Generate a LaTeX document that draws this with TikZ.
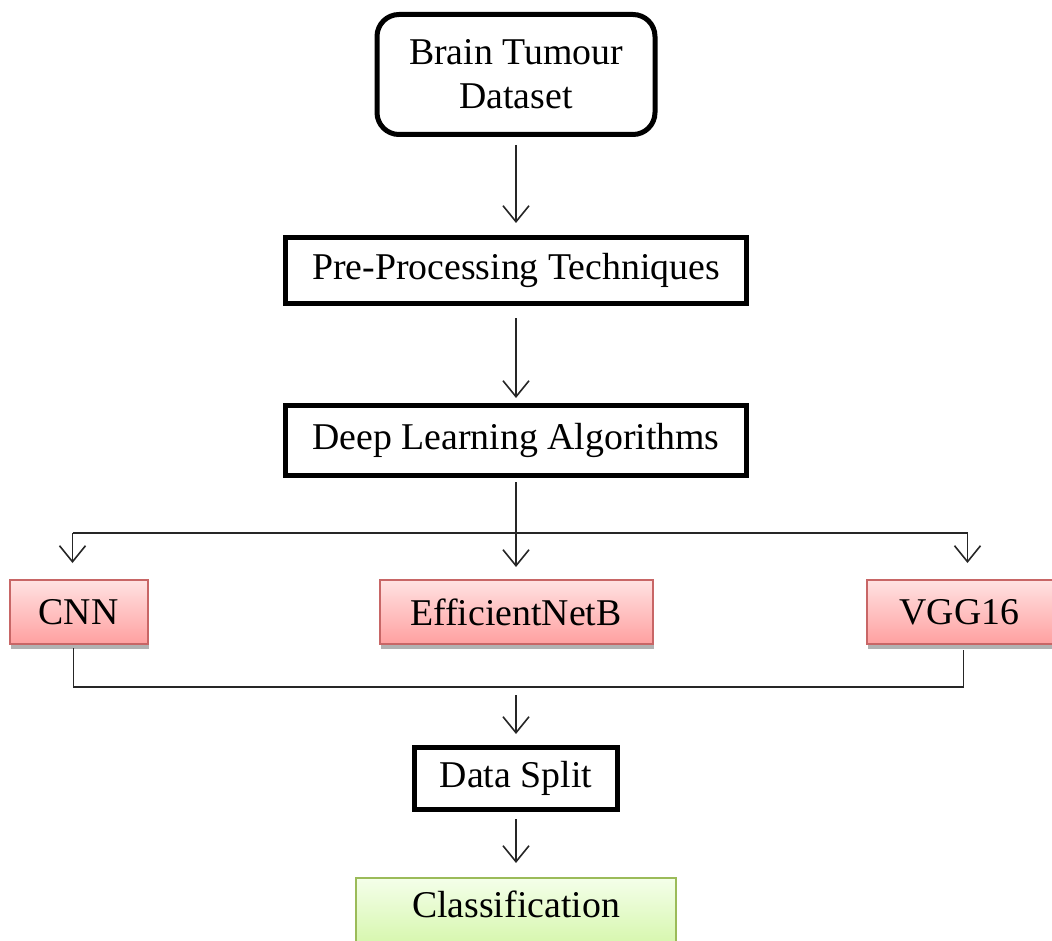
\documentclass[tikz,border=0pt]{standalone}
\usepackage{fontspec}
\setmainfont{Liberation Serif}
\usepackage{xcolor}
\usetikzlibrary{arrows.meta,positioning,shadows}

\definecolor{ModelEdge}{HTML}{C86666}
\definecolor{ModelTop}{HTML}{FFE2E2}
\definecolor{ModelBot}{HTML}{FFA0A0}
\definecolor{ResultEdge}{HTML}{9BBB59}
\definecolor{ResultTop}{HTML}{F4FFEA}
\definecolor{ResultBot}{HTML}{C8F290}
\newcommand{\boxfont}{\fontsize{37.8}{44}\selectfont}

\begin{document}
\begin{tikzpicture}[x=1pt, y=1pt, node distance=100pt, >={Straight Barb[length=16pt,width=26pt]},
    source/.style={rectangle, draw=black, line width=5pt, rounded corners=22pt, fill=white, minimum width=278pt, minimum height=120pt, align=center, font=\boxfont},
    stage/.style={rectangle, draw=black, line width=5pt, fill=white, minimum width=461pt, minimum height=66pt, font=\boxfont},
    model/.style={rectangle, draw=ModelEdge, line width=2pt, top color=ModelTop, bottom color=ModelBot, minimum height=64pt, font=\boxfont,
        drop shadow={shadow xshift=1pt, shadow yshift=-5pt, opacity=.3, fill=black}},
    result/.style={rectangle, draw=ResultEdge, line width=2pt, top color=ResultTop, bottom color=ResultBot, minimum width=320pt, font=\boxfont,
        text height=25pt, text depth=45pt, inner ysep=14pt},
    link/.style={draw=black!85, line width=1.6pt},
    flow/.style={link, ->}]

    \useasboundingbox (0,0) rectangle (1052,-941);

    \node [source] (dataset) at (516,-74.5) {Brain Tumour\\Dataset};
    \node [stage, below=98pt of dataset] (prep) {Pre-Processing Techniques};
    \node [stage, below=97pt of prep, minimum height=70pt] (dl) {Deep Learning Algorithms};

    % the three networks
    \node [model, below=101pt of dl, minimum width=273pt] (effnet) {EfficientNetB};
    \node [model, left=230pt of effnet, minimum width=138pt] (cnn) {CNN};
    \node [model, right=212pt of effnet, minimum width=186pt] (vgg) {VGG16};

    \node [stage, below=100pt of effnet, minimum width=203pt, minimum height=62pt] (split) {Data Split};
    \node [result, below=65pt of split] (cls) {Classification};

    \coordinate [below=55pt of dl.south] (fork);
    \coordinate [below=42pt of effnet.south] (merge);

    \draw [flow, shorten <=8pt, shorten >=12pt] (dataset) -- (prep);
    \draw [flow, shorten <=12pt, shorten >=5pt] (prep) -- (dl);
    \draw [flow, shorten <=4pt, shorten >=12pt] (dl) -- (effnet);

    % branch out to the side networks
    \draw [link] ([xshift=-6pt]cnn.north |- fork) -- ([xshift=8pt]vgg.north |- fork);
    \draw [flow, shorten >=16pt] ([xshift=-6pt]cnn.north |- fork) -- ([xshift=-6pt]cnn.north);
    \draw [flow, shorten >=16pt] ([xshift=8pt]vgg.north |- fork) -- ([xshift=8pt]vgg.north);

    % join them again
    \draw [link, shorten <=3pt, shorten >=5pt] ([xshift=-5pt]cnn.south) |- (merge) -| ([xshift=4pt]vgg.south);
    \draw [flow, shorten <=8pt, shorten >=11pt] (merge) -- (split);
    \draw [flow, shorten <=7pt, shorten >=14pt] (split) -- (cls);
\end{tikzpicture}
\end{document}
